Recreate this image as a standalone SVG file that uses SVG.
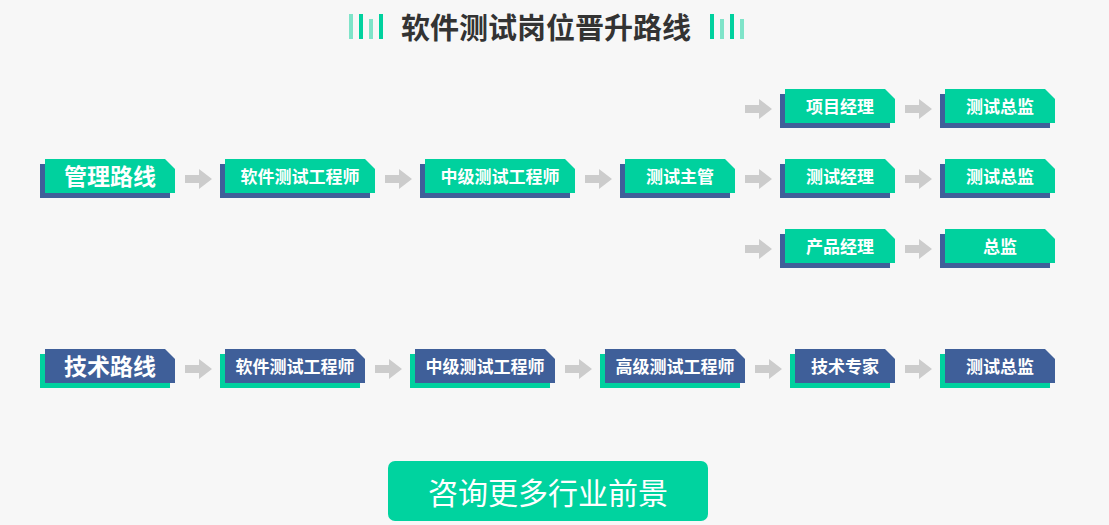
<svg xmlns="http://www.w3.org/2000/svg" width="1109" height="525" viewBox="0 0 1109 525">
<defs>
<style>
.g{fill:#00d19e}.b{fill:#3f5f99}.lg{fill:#7fe4c9}
.t{font-family:"Noto Sans CJK SC","Noto Sans",sans-serif;fill:#fff;font-weight:bold;font-size:17px;text-anchor:middle;dominant-baseline:central}
.big{font-size:23px}
.ar{fill:#cccccc}
</style>
<path id="a" d="M0,-4H14V-10L27,0L14,10V4H0Z"/>
</defs>
<rect width="1109" height="525" fill="#f7f7f7"/>
<g id="title">
<rect class="lg" x="349" y="14" width="4" height="25"/><rect class="g" x="359" y="14" width="4" height="25"/><rect class="lg" x="369" y="19" width="4" height="20"/><rect class="g" x="379" y="14" width="4" height="25"/>
<rect class="g" x="710" y="14" width="4" height="25"/><rect class="lg" x="720" y="19" width="4" height="20"/><rect class="g" x="730" y="14" width="4" height="25"/><rect class="lg" x="740" y="19" width="4" height="20"/>
<text x="546" y="26" font-family="'Noto Sans CJK SC',sans-serif" font-weight="bold" font-size="29" fill="#333" text-anchor="middle" dominant-baseline="central">软件测试岗位晋升路线</text>
</g>
<g id="connectors" class="ar">
<use href="#a" x="185" y="179"/><use href="#a" x="385" y="179"/><use href="#a" x="585" y="179"/><use href="#a" x="745" y="179"/><use href="#a" x="905" y="179"/>
<use href="#a" x="745" y="109"/><use href="#a" x="905" y="109"/><use href="#a" x="745" y="249"/><use href="#a" x="905" y="249"/>
<use href="#a" x="185" y="369"/><use href="#a" x="375" y="369"/><use href="#a" x="565" y="369"/><use href="#a" x="755" y="369"/><use href="#a" x="905" y="369"/>
</g>
<g id="m0"><rect class="b" x="40" y="164" width="130" height="34"/><path class="g" d="M45,159H165L175,169V193H45Z"/><text class="t big" x="110" y="175">管理路线</text></g>
<g id="m1"><rect class="b" x="220" y="164" width="150" height="34"/><path class="g" d="M225,159H365L375,169V193H225Z"/><text class="t" x="300" y="175">软件测试工程师</text></g>
<g id="m2"><rect class="b" x="420" y="164" width="150" height="34"/><path class="g" d="M425,159H565L575,169V193H425Z"/><text class="t" x="500" y="175">中级测试工程师</text></g>
<g id="m3"><rect class="b" x="620" y="164" width="110" height="34"/><path class="g" d="M625,159H725L735,169V193H625Z"/><text class="t" x="680" y="175">测试主管</text></g>
<g id="m4"><rect class="b" x="780" y="164" width="110" height="34"/><path class="g" d="M785,159H885L895,169V193H785Z"/><text class="t" x="840" y="175">测试经理</text></g>
<g id="m5"><rect class="b" x="940" y="164" width="110" height="34"/><path class="g" d="M945,159H1045L1055,169V193H945Z"/><text class="t" x="1000" y="175">测试总监</text></g>
<g id="p1"><rect class="b" x="780" y="94" width="110" height="34"/><path class="g" d="M785,89H885L895,99V123H785Z"/><text class="t" x="840" y="105">项目经理</text></g>
<g id="p2"><rect class="b" x="940" y="94" width="110" height="34"/><path class="g" d="M945,89H1045L1055,99V123H945Z"/><text class="t" x="1000" y="105">测试总监</text></g>
<g id="q1"><rect class="b" x="780" y="234" width="110" height="34"/><path class="g" d="M785,229H885L895,239V263H785Z"/><text class="t" x="840" y="245">产品经理</text></g>
<g id="q2"><rect class="b" x="940" y="234" width="110" height="34"/><path class="g" d="M945,229H1045L1055,239V263H945Z"/><text class="t" x="1000" y="245">总监</text></g>
<g id="t0"><rect class="g" x="40" y="354" width="130" height="34"/><path class="b" d="M45,349H165L175,359V383H45Z"/><text class="t big" x="110" y="365">技术路线</text></g>
<g id="t1"><rect class="g" x="220" y="354" width="140" height="34"/><path class="b" d="M225,349H355L365,359V383H225Z"/><text class="t" x="295" y="365">软件测试工程师</text></g>
<g id="t2"><rect class="g" x="410" y="354" width="140" height="34"/><path class="b" d="M415,349H545L555,359V383H415Z"/><text class="t" x="485" y="365">中级测试工程师</text></g>
<g id="t3"><rect class="g" x="600" y="354" width="140" height="34"/><path class="b" d="M605,349H735L745,359V383H605Z"/><text class="t" x="675" y="365">高级测试工程师</text></g>
<g id="t4"><rect class="g" x="790" y="354" width="100" height="34"/><path class="b" d="M795,349H885L895,359V383H795Z"/><text class="t" x="845" y="365">技术专家</text></g>
<g id="t5"><rect class="g" x="940" y="354" width="110" height="34"/><path class="b" d="M945,349H1045L1055,359V383H945Z"/><text class="t" x="1000" y="365">测试总监</text></g>
<g id="btn"><rect x="388" y="461" width="320" height="60" rx="7" fill="#00d39f"/><text x="548" y="491" font-family="'Noto Sans CJK SC',sans-serif" font-size="30" fill="#fff" text-anchor="middle" dominant-baseline="central">咨询更多行业前景</text></g>
</svg>
